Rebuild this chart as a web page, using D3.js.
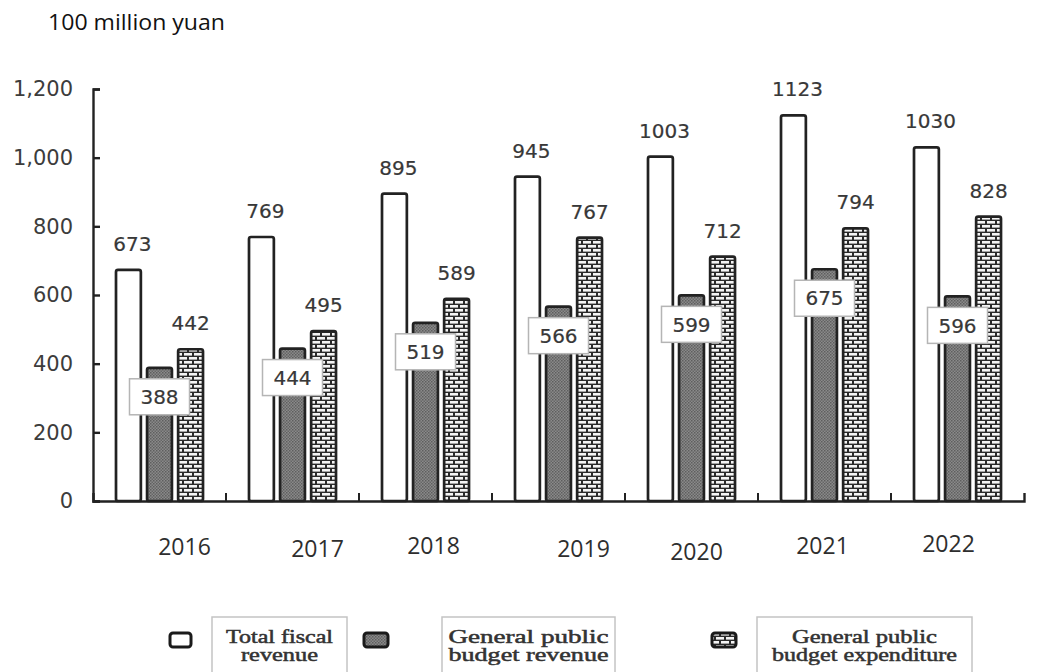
<!DOCTYPE html>
<html>
<head>
<meta charset="utf-8">
<script src="https://cdn.jsdelivr.net/npm/d3@7"></script>
<style>
  body { margin: 0; background: #fff; }
  svg { display: block; }
</style>
</head>
<body>
<div id="chart"></div>
<script>
// data
var years = ["2016", "2017", "2018", "2019", "2020", "2021", "2022"];
var totalRevenue = [673, 769, 895, 945, 1003, 1123, 1030];
var budgetRevenue = [388, 444, 519, 566, 599, 675, 596];
var budgetExpenditure = [442, 495, 589, 767, 712, 794, 828];
var seriesNames = [["Total fiscal", "revenue"], ["General public", "budget revenue"], ["General public", "budget expenditure"]];
var yTicks = [0, 200, 400, 600, 800, 1000, 1200];

// layout only (year labels in the picture sit a bit off-centre)
var yearShiftX = [25, 25, 8, 25, 5, -2, -9];
var yearY = [547, 549, 546, 549, 552, 546, 544];
var legendTextLen = [[107, 77], [160, 160], [145, 185]];

var width = 1041, height = 672;
var svg = d3.select("#chart").append("svg")
    .attr("width", width)
    .attr("height", height);

var defs = svg.append("defs");

// stipple for budget revenue
var dots = defs.append("pattern")
    .attr("id", "dots")
    .attr("patternUnits", "userSpaceOnUse")
    .attr("width", 3).attr("height", 3);
dots.append("rect").attr("width", 3).attr("height", 3).attr("fill", "#8a8a8a");
dots.append("rect").attr("width", 1.5).attr("height", 1.5).attr("fill", "#5e5e5e");
dots.append("rect").attr("x", 1.5).attr("y", 1.5).attr("width", 1.5).attr("height", 1.5).attr("fill", "#666");

// bricks for expenditure
var brick = defs.append("pattern")
    .attr("id", "brick")
    .attr("patternUnits", "userSpaceOnUse")
    .attr("width", 10).attr("height", 8);
brick.append("rect").attr("width", 10).attr("height", 8).attr("fill", "#2a2a2a");
brick.append("rect").attr("x", 1).attr("y", 1).attr("width", 8).attr("height", 2.6).attr("fill", "#f4f4f4");
brick.append("rect").attr("x", -4).attr("y", 5).attr("width", 8).attr("height", 2.6).attr("fill", "#f4f4f4");
brick.append("rect").attr("x", 6).attr("y", 5).attr("width", 8).attr("height", 2.6).attr("fill", "#f4f4f4");

var fills = ["#ffffff", "url(#dots)", "url(#brick)"];

var x0 = d3.scaleBand().domain(years).range([93, 1024]);
var x1 = d3.scaleBand().domain([0, 1, 2]).range([23, 110]).paddingInner(0.2);
var y = d3.scaleLinear().domain([0, 1200]).range([501, 89]);

// unit label
svg.append("text")
    .attr("x", 48).attr("y", 30)
    .style("font-family", "'Open Sans', sans-serif")
    .style("font-size", "21px")
    .style("fill", "#111")
    .attr("textLength", 177)
    .attr("lengthAdjust", "spacingAndGlyphs")
    .text("100 million yuan");

// y axis
var yAxis = d3.axisLeft(y)
    .tickValues(yTicks)
    .tickFormat(d3.format(","))
    .tickSizeInner(-7)
    .tickSizeOuter(-7)
    .tickPadding(20);

var yg = svg.append("g")
    .attr("transform", "translate(93,0)")
    .call(yAxis);
yg.select(".domain").attr("stroke", "#222").attr("stroke-width", 2.4);
yg.selectAll(".tick line").attr("stroke", "#222").attr("stroke-width", 2.4);
yg.selectAll(".tick text")
    .style("font-family", "'DejaVu Sans', sans-serif")
    .style("font-size", "21px")
    .style("fill", "#3c3c3c");

// x axis
var xAxis = d3.axisBottom(x0)
    .tickSizeInner(0)
    .tickSizeOuter(-8)
    .tickFormat("");
var xg = svg.append("g")
    .attr("transform", "translate(0,501)")
    .call(xAxis);
xg.select(".domain").attr("stroke", "#222").attr("stroke-width", 2.4);
xg.selectAll(".tick").remove();
xg.selectAll("line.sep")
    .data(years.slice(0, -1))
    .enter().append("line")
    .attr("class", "sep")
    .attr("x1", function (d) { return x0(d) + x0.bandwidth(); })
    .attr("x2", function (d) { return x0(d) + x0.bandwidth(); })
    .attr("y1", 0).attr("y2", -8)
    .attr("stroke", "#222").attr("stroke-width", 2);

// year labels
svg.append("g").selectAll("text")
    .data(years)
    .enter().append("text")
    .attr("x", function (d, i) { return x0(d) + x0.bandwidth() / 2 + yearShiftX[i]; })
    .attr("y", function (d, i) { return yearY[i]; })
    .attr("dy", "0.35em")
    .attr("text-anchor", "middle")
    .style("font-family", "'Open Sans', sans-serif")
    .style("font-size", "23px")
    .style("fill", "#2e2e2e")
    .text(function (d) { return d; });

// bars
var rows = years.map(function (yr, i) {
    return { year: yr, values: [totalRevenue[i], budgetRevenue[i], budgetExpenditure[i]] };
});

var groups = svg.append("g").selectAll("g")
    .data(rows)
    .enter().append("g")
    .attr("transform", function (d) { return "translate(" + x0(d.year) + ",0)"; });

groups.selectAll("rect")
    .data(function (d) { return d.values; })
    .enter().append("rect")
    .attr("x", function (d, k) { return x1(k); })
    .attr("y", function (d) { return y(d); })
    .attr("width", x1.bandwidth())
    .attr("height", function (d) { return y(0) - y(d); })
    .attr("rx", 2)
    .attr("fill", function (d, k) { return fills[k]; })
    .attr("stroke", "#222")
    .attr("stroke-width", 2.7);

// value labels for total and expenditure
groups.selectAll("text.top")
    .data(function (d) { return [[0, d.values[0]], [2, d.values[2]]]; })
    .enter().append("text")
    .attr("class", "top")
    .attr("x", function (d) { return x1(d[0]) + x1.bandwidth() / 2 + (d[0] === 0 ? 4 : 0); })
    .attr("y", function (d) { return y(d[1]) - 19; })
    .attr("text-anchor", "middle")
    .style("font-family", "'DejaVu Sans', sans-serif")
    .style("font-size", "20px")
    .style("fill", "#383838")
    .style("stroke", "#383838")
    .style("stroke-width", 0.2)
    .text(function (d) { return d[1]; });

// boxed labels for budget revenue
var boxes = groups.append("g")
    .attr("transform", function (d) {
        return "translate(" + (x1(1) + x1.bandwidth() / 2) + "," + (y(d.values[1]) + 11) + ")";
    });
boxes.append("rect")
    .attr("x", -30).attr("y", 0)
    .attr("width", 60).attr("height", 36)
    .attr("fill", "#fff")
    .attr("stroke", "#b5b5b5")
    .attr("stroke-width", 1.5);
boxes.append("text")
    .attr("x", 0).attr("y", 18)
    .attr("dy", "0.36em")
    .attr("text-anchor", "middle")
    .style("font-family", "'DejaVu Sans', sans-serif")
    .style("font-size", "20px")
    .style("fill", "#383838")
    .style("stroke", "#383838")
    .style("stroke-width", 0.2)
    .text(function (d) { return d.values[1]; });

// legend
var legendIconX = [170, 364, 712];
var legendBox = [[212, 135], [442, 173], [757, 215]];
var legend = svg.append("g").selectAll("g")
    .data(seriesNames)
    .enter().append("g");

legend.append("rect")
    .attr("x", function (d, i) { return legendIconX[i]; })
    .attr("y", 633)
    .attr("width", function (d, i) { return i === 0 ? 21 : 24; })
    .attr("height", 14)
    .attr("rx", 3)
    .attr("fill", function (d, i) { return fills[i]; })
    .attr("stroke", "#1a1a1a")
    .attr("stroke-width", 3);

legend.append("rect")
    .attr("x", function (d, i) { return legendBox[i][0]; })
    .attr("y", 617)
    .attr("width", function (d, i) { return legendBox[i][1]; })
    .attr("height", 70)
    .attr("fill", "#fff")
    .attr("stroke", "#c4c4c4")
    .attr("stroke-width", 1.5);

legend.each(function (d, i) {
    var t = d3.select(this).append("text")
        .attr("text-anchor", "middle")
        .style("font-family", "'Liberation Serif', 'Times New Roman', serif")
        .style("font-size", "18px")
        .style("fill", "#333")
        .style("stroke", "#333")
        .style("stroke-width", 0.5);
    d.forEach(function (line, j) {
        t.append("tspan")
            .attr("x", legendBox[i][0] + legendBox[i][1] / 2)
            .attr("y", 643 + j * 18)
            .attr("textLength", legendTextLen[i][j])
            .attr("lengthAdjust", "spacingAndGlyphs")
            .text(line);
    });
});
</script>
</body>
</html>
